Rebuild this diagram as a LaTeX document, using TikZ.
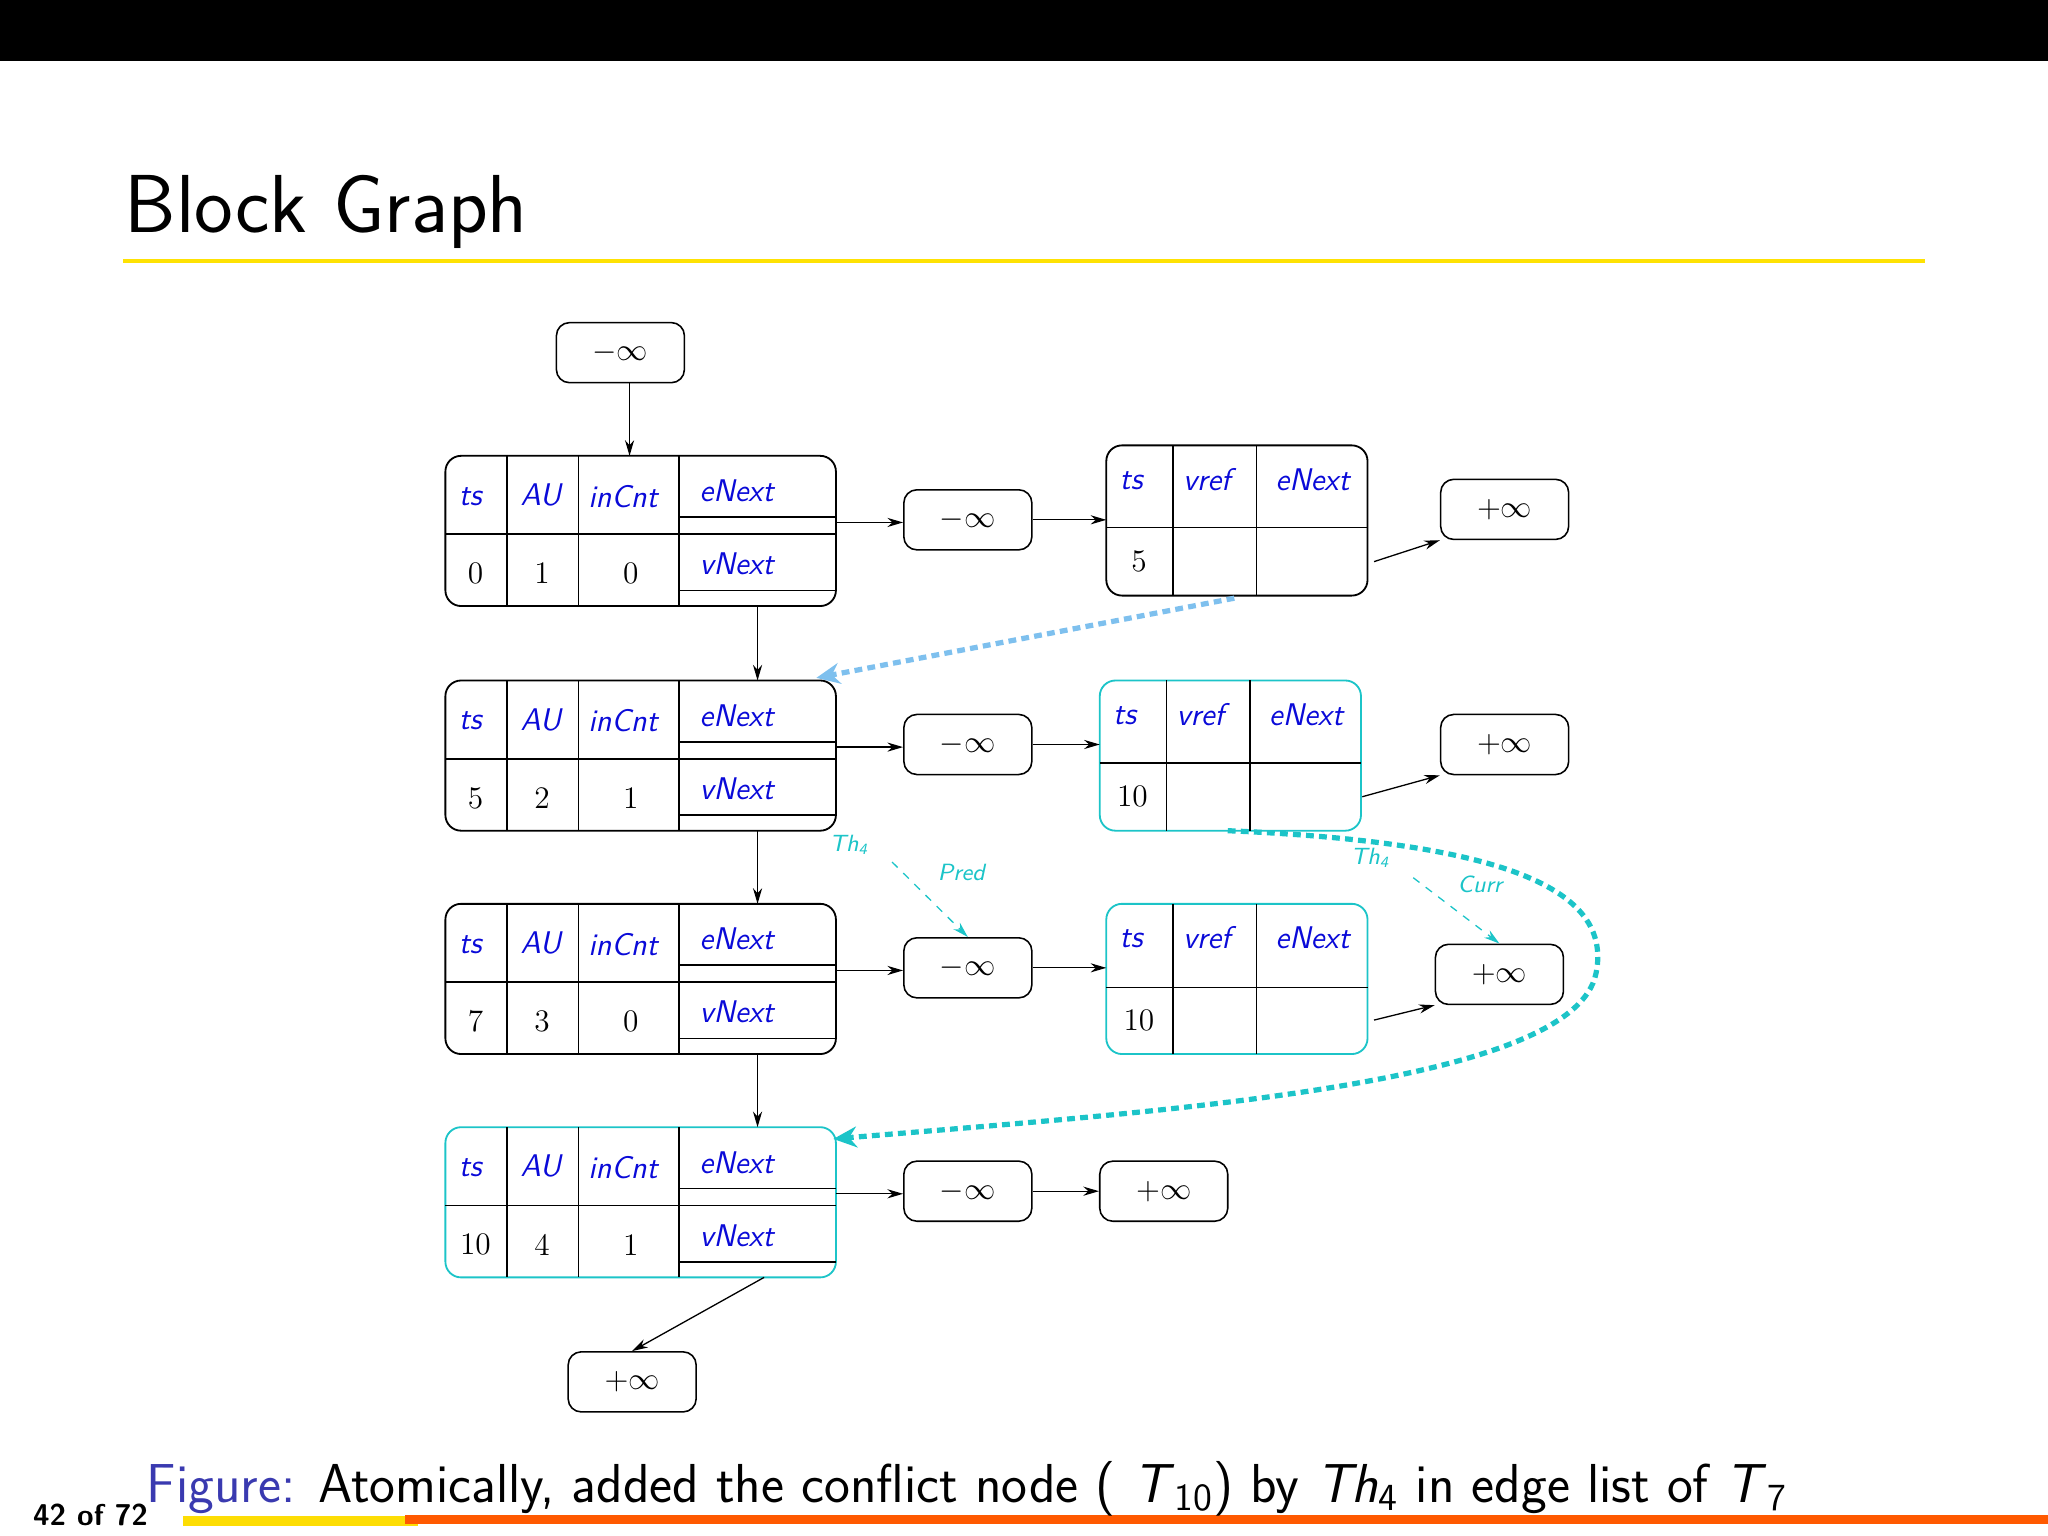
\documentclass[tikz,border=0pt]{standalone}
\usepackage{fontspec}
\usetikzlibrary{arrows.meta}
\definecolor{cyn}{HTML}{1CC4C8}
\definecolor{lblue}{HTML}{7EC0EE}
\definecolor{hdr}{HTML}{0A0AD8}
\definecolor{figblue}{HTML}{3A3AB0}
\tikzset{
 box/.style={draw,rounded corners=5pt,line width=0.6pt,minimum width=49pt,minimum height=23pt,inner sep=0pt,font=\large},
 hd/.style={text=hdr,font=\sffamily\itshape\large,inner sep=0pt},
 vl/.style={font=\large,inner sep=0pt},
 arr/.style={-{Stealth[length=6pt,width=3.5pt]},line width=0.5pt},
 thl/.style={text=cyn,font=\sffamily\itshape\small,inner sep=0pt},
}
% block: #1 name, #2 top, #3 color, #4 ts, #5 AU, #6 inCnt
\newcommand\blk[6]{%
 \draw[#3,line width=0.7pt,rounded corners=6pt] (341,#2) rectangle (640,{#2+115});
 \draw[line width=0.6pt] (388,#2)--(388,{#2+115}) (443,#2)--(443,{#2+115}) (520,#2)--(520,{#2+115})
   (341,{#2+60})--(640,{#2+60}) (520,{#2+47})--(640,{#2+47}) (520,{#2+103})--(640,{#2+103});
 \node[hd] at (360,{#2+31}) {ts};
 \node[hd] at (414,{#2+30}) {AU};
 \node[hd] at (477,{#2+31}) {inCnt};
 \node[hd] at (564,{#2+27}) {eNext};
 \node[hd] at (564,{#2+83}) {vNext};
 \node[vl] at (364,{#2+90}) {#4};
 \node[vl] at (415,{#2+90}) {#5};
 \node[vl] at (483,{#2+90}) {#6};
 \coordinate (#1e) at (640,{#2+51});
 \coordinate (#1t) at (482,#2);
 \coordinate (#1bt) at (580,#2);
 \coordinate (#1b) at (580,{#2+115});
}
% vertex table: #1 name, #2 left, #3 top, #4 color, #5 ts, #6 split offset
\newcommand\vtx[6]{%
 \draw[#4,line width=0.7pt,rounded corners=6pt] (#2,#3) rectangle ({#2+200},{#3+115});
 \draw[line width=0.6pt] ({#2+51},#3)--({#2+51},{#3+115}) ({#2+115},#3)--({#2+115},{#3+115})
   (#2,{#3+#6})--({#2+200},{#3+#6});
 \node[hd] at ({#2+19},{#3+27}) {ts};
 \node[hd] at ({#2+77},{#3+26}) {vref};
 \node[hd] at ({#2+158},{#3+26}) {eNext};
 \node[vl] at ({#2+25},{#3+89}) {#5};
 \coordinate (#1w) at (#2,{#3+55});
 \coordinate (#1e) at ({#2+205},{#3+89});
 \coordinate (#1b) at ({#2+98},{#3+115});
}
\begin{document}
\begin{tikzpicture}[x=0.5pt,y=-0.5pt]
\useasboundingbox (0,0) rectangle (1568,1176);
\fill[black] (0,0) rectangle (1568,47);
\node[anchor=base west,inner sep=0pt,font=\sffamily\fontsize{31.5}{36}\selectfont] (title) at (95,178) {Block Graph};
\draw[yellow!85!orange,line width=1.5pt] (94,200)--(1474,200);
% footer
\fill[yellow!80!orange] (140,1161) rectangle (320,1168);
\fill[orange!70!red] (310,1160) rectangle (1568,1167);
\node[anchor=base west,inner sep=0pt,font=\sffamily\bfseries\fontsize{11.5}{13}\selectfont] (pg) at (25,1168) {42 of 72};
\node[anchor=base west,inner sep=0pt,font=\sffamily\fontsize{21}{25}\selectfont] (cap) at (112,1150) {\textcolor{figblue}{Figure:} Atomically, added the conflict node ( \textit{T}\textsubscript{10}) by \textit{Th}\textsubscript{4} in edge list of \textit{T}\textsubscript{7}};

\node[box] (top) at (475,270) {$-\infty$};
\blk{b1}{349}{black}{0}{1}{0}
\blk{b2}{521}{black}{5}{2}{1}
\blk{b3}{692}{black}{7}{3}{0}
\blk{b4}{863}{cyn}{10}{4}{1}

\node[box] (n1) at (741,398) {$-\infty$};
\node[box] (n2) at (741,570) {$-\infty$};
\node[box] (n3) at (741,741) {$-\infty$};
\node[box] (n4) at (741,912) {$-\infty$};

\vtx{v1}{847}{341}{black}{5}{63}
\vtx{v2}{842}{521}{cyn}{10}{63}
\vtx{v3}{847}{692}{cyn}{10}{64}

\node[box] (p1) at (1152,390) {$+\infty$};
\node[box] (p2) at (1152,570) {$+\infty$};
\node[box] (p3) at (1148,746) {$+\infty$};
\node[box] (p4) at (891,912) {$+\infty$};
\node[box] (p5) at (484,1058) {$+\infty$};

\draw[arr] (b1t|-top.south) -- (b1t);
\draw[arr] (b1b) -- (b2bt);
\draw[arr] (b2b) -- (b3bt);
\draw[arr] (b3b) -- (b4bt);
\draw[arr] (b1e) -- (b1e-|n1.west);
\draw[arr] (b2e) -- (b2e-|n2.west);
\draw[arr] (b3e) -- (b3e-|n3.west);
\draw[arr] (b4e) -- (b4e-|n4.west);
\draw[arr] (n1.east) -- (n1.east-|v1w);
\draw[arr] (n2.east) -- (n2.east-|v2w);
\draw[arr] (n3.east) -- (n3.east-|v3w);
\draw[arr] (n4.east) -- (p4.west);
\draw[arr] (v1e) -- (p1.south west);
\draw[arr] ([xshift=-2pt]v2e) -- (p2.south west);
\draw[arr] (v3e) -- (p3.south west);
\coordinate (b4o) at (585,978);
\draw[arr] (b4o) -- (p5.north);

% dotted links
\coordinate (lb) at (625,519);
\draw[lblue,line width=2pt,dash pattern=on 3pt off 2pt,-{Stealth[length=9pt,width=8pt]}] (v1b)+(0,2) -- (lb);
\coordinate (cb) at (638,872);
\draw[cyn,line width=2pt,dash pattern=on 3pt off 2pt,-{Stealth[length=9pt,width=8pt]}] (v2b) .. controls (1150,645) and (1235,680) .. (1222,745) .. controls (1205,830) and (900,850) .. (cb);

% thread labels
\node[thl] (th1) at (650,647) {Th\textsubscript{4}};
\node[thl] (pr) at (736,668) {Pred};
\coordinate (a1) at (683,660);
\draw[cyn,dashed,arr] (a1) -- (n3.north);
\node[thl] (th2) at (1049,657) {Th\textsubscript{4}};
\node[thl] (cu) at (1133,677) {Curr};
\coordinate (a2) at (1082,672);
\draw[cyn,dashed,arr] (a2) -- (p3.north);
\end{tikzpicture}
\end{document}
